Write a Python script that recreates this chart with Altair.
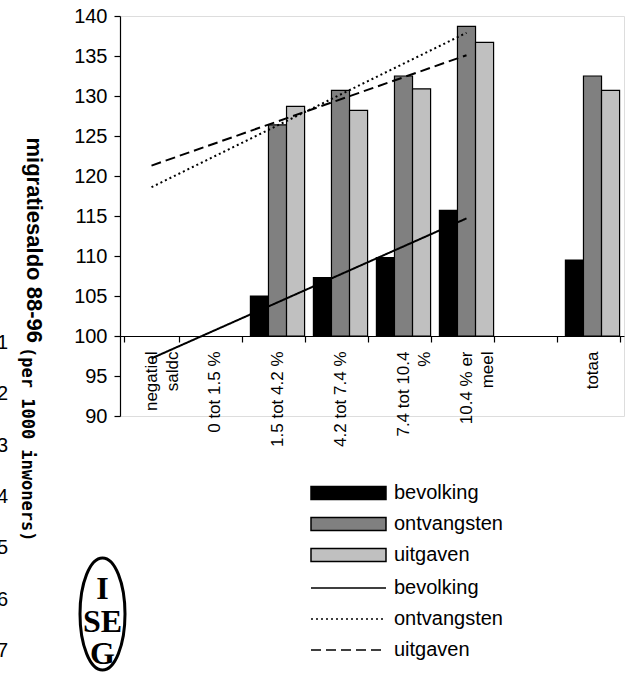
import altair as alt
import pandas as pd

# Categories on the x axis ("|" marks a line break in the tick label)
categorieen = ["negatiel|saldc", "0 tot 1.5 %", "1.5 tot 4.2 %", "4.2 tot 7.4 %",
               "7.4 tot 10.4|%", "10.4 % er|meel", " ", "totaa"]
reeksen = ["bevolking", "ontvangsten", "uitgaven"]
kleuren = ["#000000", "#808080", "#c0c0c0"]

# Bar values (index, 100 = base)
staaf_cat = ["1.5 tot 4.2 %", "4.2 tot 7.4 %", "7.4 tot 10.4|%", "10.4 % er|meel", "totaa"]
bevolking = [105.0, 107.3, 109.8, 115.7, 109.5]
ontvangsten = [126.4, 130.7, 132.5, 138.7, 132.5]
uitgaven = [128.7, 128.2, 130.9, 136.7, 130.7]

# Linear trend lines: start and end value
trend_cat = ["negatiel|saldc", "10.4 % er|meel"]
trend_bevolking = [97.2, 114.7]
trend_ontvangsten = [118.6, 137.9]
trend_uitgaven = [121.3, 135.1]

y_ticks = [90, 95, 100, 105, 110, 115, 120, 125, 130, 135, 140]
rijnummers = ["1", "2", "3", "4", "5", "6", "7"]
logo_letters = ["I", "SE", "G"]

staven = pd.DataFrame({
    "categorie": staaf_cat * 3,
    "reeks": [r for r in reeksen for _ in staaf_cat],
    "waarde": bevolking + ontvangsten + uitgaven,
})
trends = pd.DataFrame({
    "categorie": trend_cat * 3,
    "trend": [r for r in reeksen for _ in trend_cat],
    "waarde": trend_bevolking + trend_ontvangsten + trend_uitgaven,
})

FONT = "Liberation Sans"

x_axis = alt.Axis(
    title=None, orient="bottom", offset=-80, labelAngle=-90,
    labelExpr="split(datum.label, '|')", labelFont=FONT, labelFontSize=17,
    labelLineHeight=21, labelColor="black", labelPadding=9,
    tickBand="extent", tickSize=6, tickColor="black", domainColor="black",
    domainWidth=1.2, tickWidth=1.2, grid=False,
)
y_axis = alt.Axis(
    values=y_ticks, title="migratiesaldo 88-96", titleAngle=90, titleAlign="left",
    titleBaseline="alphabetic", titleX=-94, titleY=121, titleFont=FONT,
    titleFontSize=22, titleFontWeight="bold", titleColor="black",
    labelFont=FONT, labelFontSize=20, labelColor="black", labelPadding=7,
    tickSize=6, tickColor="black", domainColor="black", domainWidth=1.2,
    tickWidth=1.2, grid=False,
)
x_scale = alt.Scale(domain=categorieen, paddingInner=0.14, paddingOuter=0.07)
y_scale = alt.Scale(domain=[90, 140], nice=False, zero=False)

bars = alt.Chart(staven).mark_bar(stroke="black", strokeWidth=1.2).encode(
    x=alt.X("categorie:N", scale=x_scale, sort=categorieen, axis=x_axis),
    xOffset=alt.XOffset("reeks:N", sort=reeksen, scale=alt.Scale(domain=reeksen)),
    y=alt.Y("waarde:Q", scale=y_scale, axis=y_axis),
    y2=alt.datum(100),
    fill=alt.Fill(
        "reeks:N", scale=alt.Scale(domain=reeksen, range=kleuren),
        legend=alt.Legend(
            title=None, orient="none", legendX=188, legendY=467, padding=0,
            symbolType="M-1,-0.93H9.714V0.93H-1Z", symbolSize=196,
            symbolStrokeColor="black", symbolStrokeWidth=1.5,
            labelFont=FONT, labelFontSize=20, labelColor="black",
            labelOffset=66, rowPadding=11,
        ),
    ),
)

lines = alt.Chart(trends).mark_line(color="black", strokeWidth=2).encode(
    x=alt.X("categorie:N", scale=x_scale, sort=categorieen, axis=x_axis),
    y=alt.Y("waarde:Q", scale=y_scale, axis=y_axis),
    strokeDash=alt.StrokeDash(
        "trend:N",
        scale=alt.Scale(domain=reeksen, range=[[1, 0], [2, 3], [10, 5]]),
        legend=alt.Legend(
            title=None, orient="none", legendX=188, legendY=562, padding=0,
            symbolType="M-1,0H9.714", symbolSize=196,
            symbolStrokeColor="black", symbolStrokeWidth=1.5,
            symbolFillColor="transparent",
            labelFont=FONT, labelFontSize=20, labelColor="black",
            labelOffset=66, rowPadding=11,
        ),
    ),
)

# Unit note next to the axis title
eenheid = alt.Chart(pd.DataFrame({"tekst": ["(per 1000 inwoners)"]})).mark_text(
    angle=90, align="left", baseline="alphabetic", font="DejaVu Sans Mono",
    fontWeight="bold", fontSize=17, color="black",
).encode(x=alt.value(-98), y=alt.value(331), text="tekst:N")

# Spreadsheet row numbers along the left edge
nummers = alt.Chart(pd.DataFrame({"n": [0]})).mark_text(
    align="right", baseline="alphabetic", font=FONT, fontSize=20,
    color="black", lineHeight=51.3,
).encode(x=alt.value(-112), y=alt.value(333), text=alt.value(rijnummers))

# ISEG logo: ellipse with stacked letters
ellips = alt.Chart(pd.DataFrame({"n": [0]})).mark_point(
    shape=("M0,-2.49C0.5523,-2.49 1,-1.375 1,0C1,1.375 0.5523,2.49 0,2.49"
           "C-0.5523,2.49 -1,1.375 -1,0C-1,-1.375 -0.5523,-2.49 0,-2.49Z"),
    size=2025, filled=False, stroke="black", strokeWidth=3, opacity=1,
).encode(x=alt.value(-17.5), y=alt.value(598))

logo_lagen = []
for letter, py in zip(logo_letters, [573, 606, 638]):
    logo_lagen.append(
        alt.Chart(pd.DataFrame({"letter": [letter]})).mark_text(
            font="Liberation Serif", fontWeight="bold", fontSize=32,
            color="black", align="center", baseline="middle",
        ).encode(x=alt.value(-17.5), y=alt.value(py), text="letter:N")
    )

chart = alt.layer(bars, lines, eenheid, nummers, ellips, *logo_lagen).resolve_legend(
    fill="independent", strokeDash="independent"
).properties(
    width=504, height=400,
    autosize=alt.AutoSizeParams(type="none"),
    padding={"left": 120, "top": 16, "right": 9, "bottom": 259},
).configure_view(stroke=None).configure(background="white")

chart.save("out.html", embed_options={"renderer": "svg", "actions": False})
